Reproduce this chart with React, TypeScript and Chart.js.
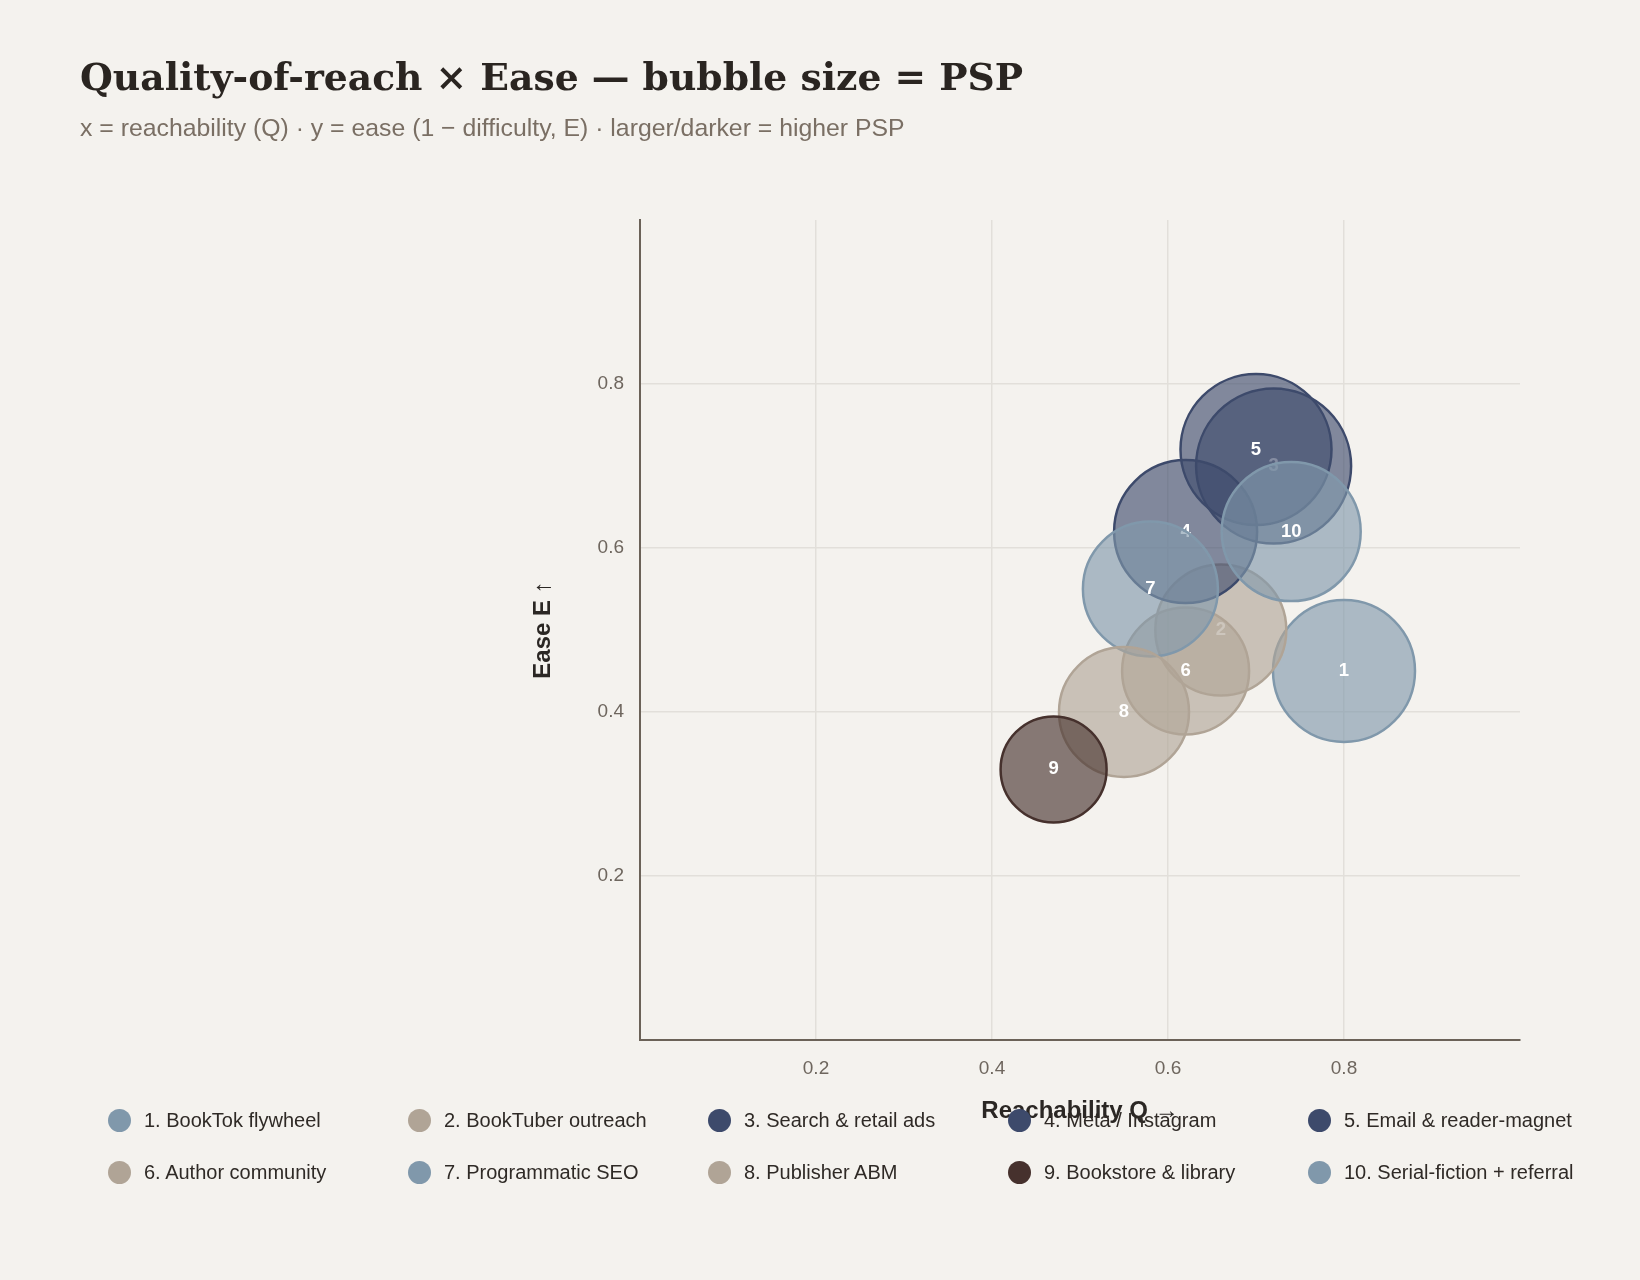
import React, { useEffect, useRef } from "react";
import { Chart, registerables } from "chart.js";

Chart.register(...registerables);

// Channel names in legend order
const channels = [
  "1. BookTok flywheel",
  "2. BookTuber outreach",
  "3. Search & retail ads",
  "4. Meta / Instagram",
  "5. Email & reader-magnet",
  "6. Author community",
  "7. Programmatic SEO",
  "8. Publisher ABM",
  "9. Bookstore & library",
  "10. Serial-fiction + referral",
];

// Number printed inside each bubble
const bubbleNumbers = ["1", "2", "3", "4", "5", "6", "7", "8", "9", "10"];

// Reachability Q (x)
const reach = [0.8, 0.66, 0.72, 0.62, 0.7, 0.62, 0.58, 0.55, 0.47, 0.74];

// Ease E = 1 − difficulty (y)
const ease = [0.45, 0.5, 0.7, 0.62, 0.72, 0.45, 0.55, 0.4, 0.33, 0.62];

// Bubble radius (px), grows with PSP
const pspRadius = [71, 65.5, 77.5, 71.5, 75.5, 63.5, 67.5, 65, 53, 69.5];

// PSP colour tier per channel
const tiers = ["mist", "sand", "navy", "navy", "navy", "sand", "mist", "sand", "umber", "mist"];

// Axis ticks
const xTickValues = [0.2, 0.4, 0.6, 0.8];
const xTickLabels = ["0.2", "0.4", "0.6", "0.8"];
const yTickValues = [0.2, 0.4, 0.6, 0.8];
const yTickLabels = ["0.2", "0.4", "0.6", "0.8"];

const tierColor: Record<string, string> = {
  navy: "#3d4a6b",
  mist: "#8098ab",
  sand: "#b0a496",
  umber: "#46312d",
};

const BG = "#f4f2ee";
const SANS = "'Liberation Sans', Arial, Helvetica, sans-serif";

function withAlpha(hex: string, a: number) {
  const n = parseInt(hex.slice(1), 16);
  return `rgba(${(n >> 16) & 255}, ${(n >> 8) & 255}, ${n & 255}, ${a})`;
}

// Writes each channel number on its bubble right after that bubble is drawn,
// so bubbles drawn later sit over earlier numbers.
const bubbleNumberPlugin = {
  id: "bubbleNumbers",
  afterDatasetDraw(chart: any, args: any) {
    const { ctx } = chart;
    ctx.save();
    ctx.font = `bold 18.5px ${SANS}`;
    ctx.fillStyle = "#ffffff";
    ctx.textAlign = "center";
    ctx.textBaseline = "middle";
    args.meta.data.forEach((el: any) => {
      ctx.fillText(bubbleNumbers[args.index], el.x, el.y);
    });
    ctx.restore();
  },
};

export default function App() {
  const canvasRef = useRef<HTMLCanvasElement | null>(null);

  useEffect(() => {
    if (!canvasRef.current) return;
    const n = channels.length;
    const datasets = channels.map((name, i) => ({
      label: name,
      data: [{ x: reach[i], y: ease[i], r: pspRadius[i] }],
      backgroundColor: withAlpha(tierColor[tiers[i]], 0.63),
      borderColor: tierColor[tiers[i]],
      borderWidth: 2.5,
      order: n - i,
    }));

    const chart = new Chart(canvasRef.current, {
      type: "bubble",
      data: { datasets },
      plugins: [bubbleNumberPlugin],
      options: {
        responsive: false,
        animation: false,
        events: [],
        layout: { padding: { left: 529, top: 220, right: 120, bottom: 154 } },
        plugins: {
          legend: { display: false },
          tooltip: { enabled: false },
        },
        scales: {
          x: {
            type: "linear",
            min: 0,
            max: 1,
            afterBuildTicks: (s: any) => {
              s.ticks = xTickValues.map((v) => ({ value: v }));
            },
            afterFit: (s: any) => {
              s.height = 86;
            },
            ticks: {
              callback: (_v: any, i: number) => xTickLabels[i],
              color: "#6e665e",
              font: { size: 19, family: SANS },
              padding: 17,
              maxRotation: 0,
              autoSkip: false,
            },
            grid: { color: "#e2dfda", lineWidth: 1.5, drawTicks: false },
            border: { color: "#6b6258", width: 2 },
            title: {
              display: true,
              text: "Reachability Q →",
              color: "#2b2724",
              font: { size: 24, weight: "600", family: SANS },
              padding: 0,
            },
          },
          y: {
            type: "linear",
            min: 0,
            max: 1,
            afterBuildTicks: (s: any) => {
              s.ticks = yTickValues.map((v) => ({ value: v }));
            },
            afterFit: (s: any) => {
              s.width = 111;
            },
            ticks: {
              callback: (_v: any, i: number) => yTickLabels[i],
              color: "#6e665e",
              font: { size: 19, family: SANS },
              padding: 16,
              autoSkip: false,
            },
            grid: { color: "#e2dfda", lineWidth: 1.5, drawTicks: false },
            border: { color: "#6b6258", width: 2 },
            title: {
              display: true,
              text: "Ease E ↑",
              color: "#2b2724",
              font: { size: 24, weight: "600", family: SANS },
              padding: 0,
            },
          },
        },
      },
    } as any);

    return () => chart.destroy();
  }, []);

  return (
    <div style={{ position: "fixed", inset: 0, background: BG, overflow: "hidden" }}>
      <canvas
        ref={canvasRef}
        width={1640}
        height={1280}
        style={{ position: "absolute", left: 0, top: 0, width: 1640, height: 1280 }}
      />
      <div
        style={{
          position: "absolute",
          left: 80,
          top: 59,
          margin: 0,
          fontFamily: "'DejaVu Serif', Georgia, serif",
          fontWeight: 700,
          fontSize: 37.7,
          lineHeight: 1,
          color: "#2a2521",
          whiteSpace: "nowrap",
        }}
      >
        Quality-of-reach × Ease — bubble size = PSP
      </div>
      <div
        style={{
          position: "absolute",
          left: 80,
          top: 116,
          fontFamily: SANS,
          fontSize: 24.8,
          lineHeight: 1,
          color: "#7a6f64",
          whiteSpace: "nowrap",
        }}
      >
        x = reachability (Q) · y = ease (1 − difficulty, E) · larger/darker = higher PSP
      </div>
      <div
        style={{
          position: "absolute",
          left: 108,
          top: 1109,
          display: "grid",
          gridTemplateColumns: "repeat(5, 300px)",
          rowGap: 28.7,
        }}
      >
        {channels.map((name, i) => (
          <div key={name} style={{ display: "flex", alignItems: "center", height: 23 }}>
            <span
              style={{
                width: 23,
                height: 23,
                borderRadius: "50%",
                background: tierColor[tiers[i]],
                flex: "0 0 auto",
              }}
            />
            <span
              style={{
                marginLeft: 13,
                fontFamily: SANS,
                fontSize: 20,
                lineHeight: "23px",
                color: "#2f2a26",
                whiteSpace: "nowrap",
              }}
            >
              {name}
            </span>
          </div>
        ))}
      </div>
    </div>
  );
}
